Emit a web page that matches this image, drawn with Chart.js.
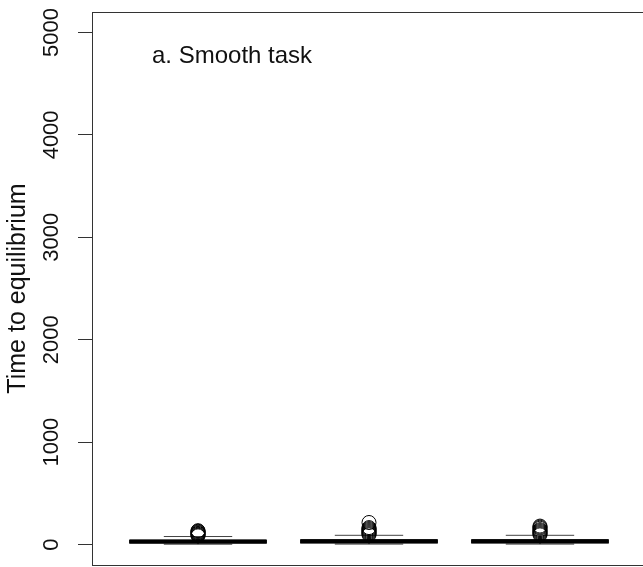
<!DOCTYPE html>
<html>
<head>
<meta charset="utf-8">
<title>Time to equilibrium</title>
<script src="https://cdn.jsdelivr.net/npm/chart.js@4.4.1/dist/chart.umd.min.js"></script>
<style>
  html, body { margin: 0; padding: 0; background: #fff; overflow: hidden; }
  #chartCanvas { display: block; }
</style>
</head>
<body>
<canvas id="chartCanvas" width="654" height="573"></canvas>
<script>
// groups drawn at x = 1, 2, 3
const groups = [1, 2, 3];
const whiskerLow = [3, 4, 4];
const quart1 = [14, 15, 15];
const medians = [30, 32, 32];
const quart3 = [42, 46, 46];
const whiskerHigh = [78, 90, 90];
const outliers = [
  [85, 92, 100, 108, 115, 122, 130, 135],
  [95, 105, 115, 125, 135, 145, 155, 165, 215],
  [95, 105, 115, 125, 135, 145, 160, 170, 180]
];
const yTicks = [0, 1000, 2000, 3000, 4000, 5000];

const FONT = "'Liberation Sans', Arial, Helvetica, sans-serif";

const outlierPoints = [];
outliers.forEach((vals, i) => {
  vals.forEach(v => outlierPoints.push({ x: groups[i], y: v }));
});

// R-style boxes, whiskers and staples, placed through the chart scales
const boxPlugin = {
  id: "boxes",
  beforeDatasetsDraw(chart) {
    const ctx = chart.ctx;
    const xs = chart.scales.x;
    const ys = chart.scales.y;
    ctx.save();
    ctx.strokeStyle = "#000";
    groups.forEach((g, i) => {
      const xl = xs.getPixelForValue(g - 0.4);
      const xr = xs.getPixelForValue(g + 0.4);
      const cl = xs.getPixelForValue(g - 0.2);
      const cr = xs.getPixelForValue(g + 0.2);
      const xc = xs.getPixelForValue(g);
      const lo = ys.getPixelForValue(whiskerLow[i]);
      const q1 = ys.getPixelForValue(quart1[i]);
      const md = ys.getPixelForValue(medians[i]);
      const q3 = ys.getPixelForValue(quart3[i]);
      const hi = ys.getPixelForValue(whiskerHigh[i]);

      // dashed whiskers
      ctx.lineWidth = 1;
      ctx.setLineDash([4, 3]);
      ctx.beginPath();
      ctx.moveTo(xc, q3); ctx.lineTo(xc, hi);
      ctx.moveTo(xc, q1); ctx.lineTo(xc, lo);
      ctx.stroke();
      ctx.setLineDash([]);

      // staples
      ctx.strokeStyle = "#444";
      ctx.beginPath();
      ctx.moveTo(cl, hi); ctx.lineTo(cr, hi);
      ctx.moveTo(cl, lo); ctx.lineTo(cr, lo);
      ctx.stroke();

      // box
      ctx.strokeStyle = "#000";
      ctx.strokeRect(xl, q3, xr - xl, q1 - q3);

      // median
      ctx.lineWidth = 4;
      ctx.beginPath();
      ctx.moveTo(xl, md); ctx.lineTo(xr, md);
      ctx.stroke();
    });
    ctx.restore();
  },
  afterDraw(chart) {
    const ctx = chart.ctx;
    const a = chart.chartArea;
    ctx.save();
    ctx.strokeStyle = "#333";
    ctx.lineWidth = 1;
    ctx.strokeRect(a.left + 0.5, a.top + 0.5, a.right - a.left, a.bottom - a.top);
    ctx.fillStyle = "#111";
    ctx.font = "24px " + FONT;
    ctx.textBaseline = "alphabetic";
    ctx.fillText("a. Smooth task", 152, 63);
    ctx.restore();
  }
};

const chart = new Chart(document.getElementById("chartCanvas").getContext("2d"), {
  type: "scatter",
  data: {
    datasets: [
      {
        label: "outliers",
        data: outlierPoints,
        pointStyle: "circle",
        pointRadius: 7,
        pointHoverRadius: 7,
        borderColor: "#000",
        borderWidth: 1,
        backgroundColor: "rgba(0,0,0,0)"
      }
    ]
  },
  options: {
    responsive: false,
    animation: false,
    layout: { padding: { top: 12, right: 0, bottom: 0, left: 0 } },
    plugins: { legend: { display: false }, tooltip: { enabled: false } },
    scales: {
      x: {
        type: "linear",
        min: 0.38,
        max: 3.62,
        display: false
      },
      y: {
        type: "linear",
        min: -200,
        max: 5200,
        afterBuildTicks: (scale) => {
          scale.ticks = yTicks.map(v => ({ value: v }));
        },
        afterFit: (scale) => {
          scale.width = 92;
          scale.paddingTop = 0;
          scale.paddingBottom = 0;
        },
        border: { display: false },
        grid: {
          drawOnChartArea: false,
          drawTicks: true,
          tickLength: 14,
          color: "#333",
          lineWidth: 1
        },
        ticks: {
          autoSkip: false,
          minRotation: 90,
          maxRotation: 90,
          crossAlign: "center",
          padding: 2,
          color: "#111",
          font: { family: FONT, size: 22 },
          callback: (v) => String(v)
        },
        title: {
          display: true,
          text: "Time to equilibrium",
          color: "#111",
          padding: { top: 3, bottom: 0 },
          font: { family: FONT, size: 25 }
        }
      }
    }
  },
  plugins: [boxPlugin]
});
</script>
</body>
</html>
